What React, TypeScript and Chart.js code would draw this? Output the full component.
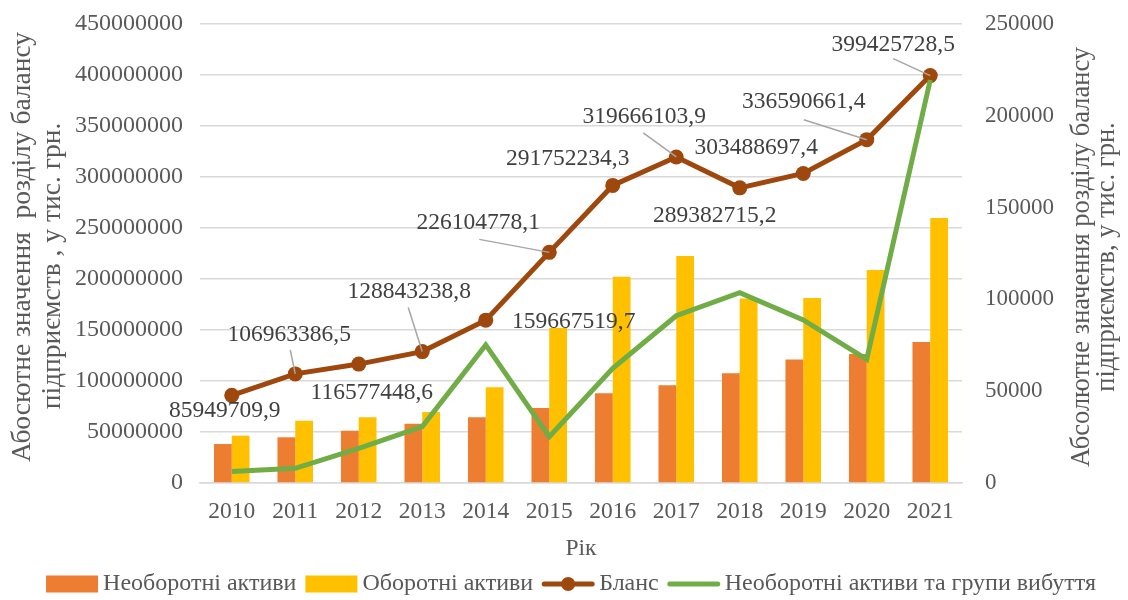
import React, { useEffect, useRef } from 'react';
import { Chart, registerables } from 'chart.js';

Chart.register(...registerables);

// ---- data ----
const years = ['2010', '2011', '2012', '2013', '2014', '2015', '2016', '2017', '2018', '2019', '2020', '2021'];
const nonCurrentAssets = [38.2e6, 44.8e6, 51.3e6, 58.1e6, 64.4e6, 73.5e6, 87.9e6, 95.8e6, 107.5e6, 121.2e6, 126.5e6, 138.2e6];
const currentAssets = [46.4e6, 61.1e6, 64.5e6, 69.6e6, 93.8e6, 152.0e6, 202.3e6, 222.5e6, 181.0e6, 181.4e6, 208.8e6, 259.8e6];
const balance = [
  85949709.9, 106963386.5, 116577448.6, 128843238.8, 159667519.7, 226104778.1,
  291752234.3, 319666103.9, 289382715.2, 303488697.4, 336590661.4, 399425728.5,
];
const balanceLabels = [
  '85949709,9', '106963386,5', '116577448,6', '128843238,8', '159667519,7', '226104778,1',
  '291752234,3', '319666103,9', '289382715,2', '303488697,4', '336590661,4', '399425728,5',
];
const disposalGroups = [6200, 8000, 18900, 30700, 75200, 25200, 62500, 91100, 103700, 88800, 67400, 219500];

const seriesNames = ['Необоротні активи', 'Оборотні активи', 'Бланс', 'Необоротні активи та групи вибуття'];
const xTitle = 'Рік';
const leftTitle = ['Абосютне значення  розділу балансу', 'підприємств , у тис. грн.'];
const rightTitle = ['Абсолютне значення розділу балансу', 'підприємств, у тис. грн.'];

const leftMax = 450000000;
const leftStep = 50000000;
const rightMax = 250000;
const rightStep = 50000;

// ---- styling (label placement relative to each point) ----
const labelOffsets: [number, number][] = [
  [-7, 15], [-6, -39], [13, 29], [-13, -60], [88, 2], [-71, -30],
  [-45, -27], [-32, -40], [-25, 28], [-47, -26], [-63, -38], [-37, -31],
];
const leaderStarts: ([number, number] | null)[] = [
  null, [-5, -24], null, [-14, -44], null, [-70, -13],
  null, [-33, -24], null, null, [-63, -20], [-37, -17],
];

const FONT = "'Liberation Serif', 'Times New Roman', serif";
const ORANGE = '#ED7D31';
const GOLD = '#FFC000';
const BROWN = '#9E480E';
const GREEN = '#70AD47';
const TICK_COLOR = '#595959';
const LABEL_COLOR = '#404040';
const GRID = '#D9D9D9';

const dataLabelsPlugin = {
  id: 'balanceLabels',
  afterDatasetsDraw(chart: any) {
    const meta = chart.getDatasetMeta(2);
    const ctx = chart.ctx;
    ctx.save();
    meta.data.forEach((pt: any, i: number) => {
      const { x, y } = pt.getProps(['x', 'y'], true);
      const ls = leaderStarts[i];
      if (ls) {
        ctx.beginPath();
        ctx.strokeStyle = '#A6A6A6';
        ctx.lineWidth = 1.5;
        ctx.moveTo(x + ls[0], y + ls[1]);
        ctx.lineTo(x, y);
        ctx.stroke();
      }
    });
    ctx.font = `23.5px ${FONT}`;
    ctx.fillStyle = LABEL_COLOR;
    ctx.textAlign = 'center';
    ctx.textBaseline = 'middle';
    meta.data.forEach((pt: any, i: number) => {
      const { x, y } = pt.getProps(['x', 'y'], true);
      const o = labelOffsets[i];
      ctx.fillText(balanceLabels[i], x + o[0], y + o[1]);
    });
    ctx.restore();
  },
};

const decorPlugin = {
  id: 'decor',
  afterDraw(chart: any) {
    const ctx = chart.ctx;
    ctx.save();
    ctx.fillStyle = TICK_COLOR;
    ctx.textAlign = 'center';
    ctx.textBaseline = 'middle';
    const drawRot = (text: string, cx: number, cy: number) => {
      ctx.save();
      ctx.translate(cx, cy);
      ctx.rotate(-Math.PI / 2);
      ctx.fillText(text, 0, 0);
      ctx.restore();
    };
    // axis titles (both read bottom-to-top)
    ctx.font = `27.5px ${FONT}`;
    drawRot(leftTitle[0], 23, 247);
    drawRot(leftTitle[1], 53, 266);
    ctx.font = `26.5px ${FONT}`;
    drawRot(rightTitle[0], 1082, 257);
    drawRot(rightTitle[1], 1107, 257);

    // legend
    ctx.font = `24px ${FONT}`;
    const symW = 52;
    const gapIn = 5;
    const gapOut = 9;
    const widths = seriesNames.map((t) => ctx.measureText(t).width);
    const total = widths.reduce((a, w) => a + symW + gapIn + w, 0) + gapOut * (seriesNames.length - 1);
    let x = 571 - total / 2;
    const cy = 584;
    seriesNames.forEach((name, i) => {
      if (i === 0 || i === 1) {
        ctx.fillStyle = i === 0 ? ORANGE : GOLD;
        ctx.fillRect(x, cy - 8.5, symW, 17);
      } else {
        ctx.beginPath();
        ctx.strokeStyle = i === 2 ? BROWN : GREEN;
        ctx.lineWidth = 5;
        ctx.lineCap = 'round';
        ctx.moveTo(x + 2, cy);
        ctx.lineTo(x + symW - 2, cy);
        ctx.stroke();
        if (i === 2) {
          ctx.beginPath();
          ctx.fillStyle = BROWN;
          ctx.arc(x + symW / 2, cy, 7, 0, Math.PI * 2);
          ctx.fill();
        }
      }
      ctx.fillStyle = TICK_COLOR;
      ctx.textAlign = 'left';
      ctx.fillText(name, x + symW + gapIn, cy);
      x += symW + gapIn + widths[i] + gapOut;
    });
    ctx.restore();
  },
};

export default function App() {
  const ref = useRef<HTMLCanvasElement | null>(null);
  useEffect(() => {
    if (!ref.current) return;
    const xFont = { family: FONT, size: 23.5 };
    const yFont = { family: FONT, size: 24 };
    const y1Font = { family: FONT, size: 23 };
    const chart = new Chart(ref.current, {
      type: 'bar',
      data: {
        labels: years,
        datasets: [
          {
            type: 'bar',
            label: seriesNames[0],
            data: nonCurrentAssets,
            backgroundColor: ORANGE,
            yAxisID: 'y',
            order: 3,
            categoryPercentage: 0.56,
            barPercentage: 1,
          },
          {
            type: 'bar',
            label: seriesNames[1],
            data: currentAssets,
            backgroundColor: GOLD,
            yAxisID: 'y',
            order: 3,
            categoryPercentage: 0.56,
            barPercentage: 1,
          },
          {
            type: 'line',
            label: seriesNames[2],
            data: balance,
            borderColor: BROWN,
            backgroundColor: BROWN,
            borderWidth: 5,
            pointRadius: 7.5,
            pointBackgroundColor: BROWN,
            pointBorderWidth: 0,
            tension: 0,
            yAxisID: 'y',
            order: 1,
          },
          {
            type: 'line',
            label: seriesNames[3],
            data: disposalGroups,
            borderColor: GREEN,
            backgroundColor: GREEN,
            borderWidth: 5,
            pointRadius: 0,
            tension: 0,
            yAxisID: 'y1',
            order: 0,
          },
        ],
      } as any,
      options: {
        animation: false,
        responsive: false,
        layout: { padding: { top: 24, bottom: 35, left: 0, right: 0 } },
        plugins: {
          legend: { display: false },
          tooltip: { enabled: false },
          title: { display: false },
        },
        scales: {
          x: {
            offset: true,
            grid: { display: false, drawTicks: false },
            border: { display: true, color: GRID, width: 1.5 },
            ticks: { font: xFont, color: TICK_COLOR, padding: 15 },
            title: {
              display: true,
              text: xTitle,
              font: xFont,
              color: TICK_COLOR,
              padding: { top: 4, bottom: 2 },
            },
            afterFit: (s: any) => {
              s.height = 82;
            },
          },
          y: {
            position: 'left',
            min: 0,
            max: leftMax,
            ticks: {
              stepSize: leftStep,
              font: yFont,
              color: TICK_COLOR,
              padding: 17,
              callback: (v: any) => String(v),
            },
            grid: { color: GRID, lineWidth: 1.5, drawTicks: false },
            border: { display: false },
            afterFit: (s: any) => {
              s.width = 200;
              s.paddingTop = 0;
              s.paddingBottom = 0;
            },
          },
          y1: {
            position: 'right',
            min: 0,
            max: rightMax,
            ticks: {
              stepSize: rightStep,
              font: y1Font,
              color: TICK_COLOR,
              padding: 23,
              callback: (v: any) => String(v),
            },
            grid: { display: false, drawTicks: false },
            border: { display: false },
            afterFit: (s: any) => {
              s.width = 166;
              s.paddingTop = 0;
              s.paddingBottom = 0;
            },
          },
        },
      } as any,
      plugins: [dataLabelsPlugin, decorPlugin],
    });
    return () => chart.destroy();
  }, []);
  return (
    <div style={{ position: 'fixed', left: 0, top: 0, width: 1128, height: 600, background: '#fff' }}>
      <canvas ref={ref} width={1128} height={600} style={{ display: 'block' }} />
    </div>
  );
}
